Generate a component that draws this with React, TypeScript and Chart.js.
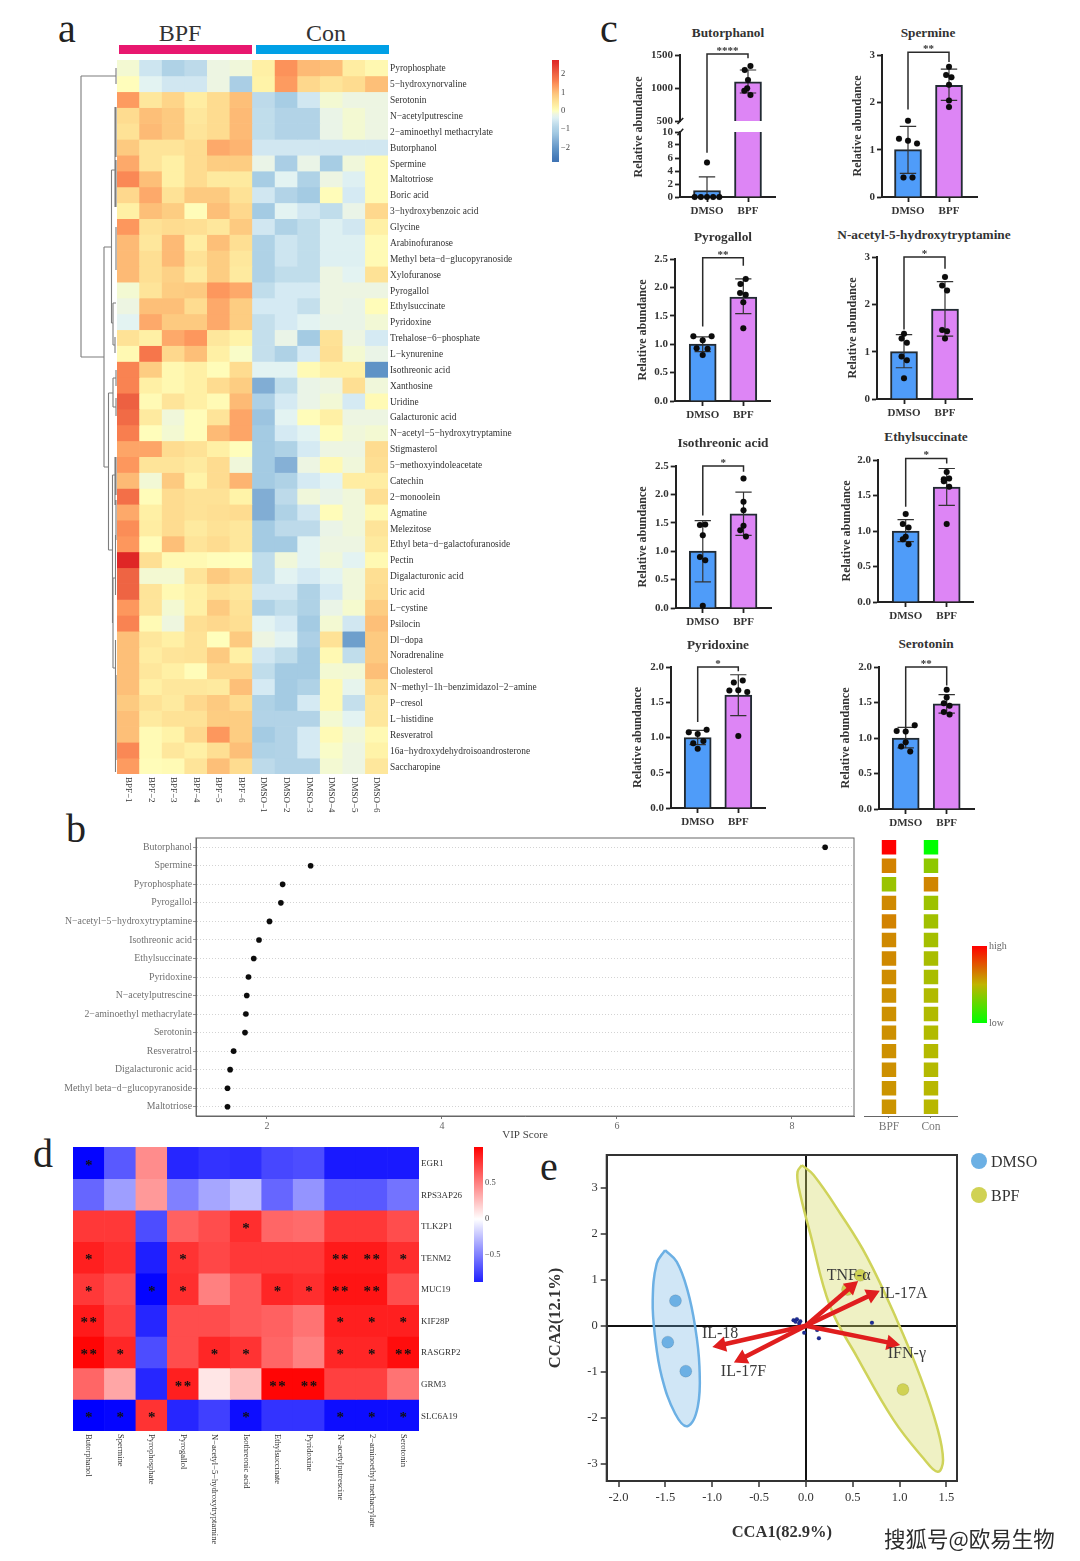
import React, { useEffect, useRef } from "react";
import { Chart, registerables } from "chart.js";
Chart.register(...registerables);

const SERIF = '"Liberation Serif", "Times New Roman", serif';

// ---------- panel a ----------
const heatSamples = ["BPF−1","BPF−2","BPF−3","BPF−4","BPF−5","BPF−6","DMSO−1","DMSO−2","DMSO−3","DMSO−4","DMSO−5","DMSO−6"];
const heatMetabolites = ["Pyrophosphate","5−hydroxynorvaline","Serotonin","N−acetylputrescine","2−aminoethyl methacrylate","Butorphanol","Spermine","Maltotriose","Boric acid","3−hydroxybenzoic acid","Glycine","Arabinofuranose","Methyl beta−d−glucopyranoside","Xylofuranose","Pyrogallol","Ethylsuccinate","Pyridoxine","Trehalose−6−phosphate","L−kynurenine","Isothreonic acid","Xanthosine","Uridine","Galacturonic acid","N−acetyl−5−hydroxytryptamine","Stigmasterol","5−methoxyindoleacetate","Catechin","2−monoolein","Agmatine","Melezitose","Ethyl beta−d−galactofuranoside","Pectin","Digalacturonic acid","Uric acid","L−cystine","Psilocin","Dl−dopa","Noradrenaline","Cholesterol","N−methyl−1h−benzimidazol−2−amine","P−cresol","L−histidine","Resveratrol","16a−hydroxydehydroisoandrosterone","Saccharopine"];
const heatValues = [
[-0.1,-0.6,-1.0,-0.8,-0.2,-0.15,0.25,1.45,1.05,1.0,0.3,0.12],
[0.03,-0.35,-0.55,-0.55,-0.2,-1.1,0.2,1.35,0.65,0.45,0.6,1.0],
[1.35,0.4,0.7,0.3,0.6,1.0,-0.8,-1.15,-0.55,-0.1,-0.2,-0.2],
[0.6,1.0,0.85,0.4,0.6,1.05,-0.75,-0.95,-0.95,-0.25,-0.1,-0.2],
[0.5,1.05,0.85,0.45,0.6,1.05,-0.75,-0.95,-0.95,-0.25,-0.1,-0.2],
[0.85,0.45,0.45,0.6,1.2,1.1,-0.55,-0.55,-0.55,-0.55,-0.55,-0.55],
[1.2,0.45,0.25,0.6,0.8,0.8,-0.25,-1.1,-0.25,-1.15,-0.15,0.08],
[1.55,1.0,0.25,0.6,0.35,0.35,-1.15,-0.35,-1.0,-0.2,-0.4,0.08],
[0.65,1.2,0.5,0.85,0.85,0.5,-0.55,-0.95,-1.2,0.05,-0.5,0.08],
[0.25,1.0,0.8,0.05,1.0,0.65,-1.2,-0.35,-0.55,-0.75,-0.25,0.65],
[1.4,0.5,0.6,0.55,0.4,0.85,-0.55,-1.0,-0.75,-0.4,-0.55,0.25],
[1.05,0.4,1.05,0.3,1.0,0.55,-1.0,-0.6,-0.75,-0.4,-0.4,0.08],
[1.05,0.55,1.05,0.5,0.8,0.4,-1.0,-0.6,-0.75,-0.4,-0.4,0.08],
[1.05,0.55,0.75,0.35,0.8,0.35,-1.0,-0.75,-0.75,-0.2,-0.35,0.5],
[-0.1,0.45,0.8,0.85,1.4,1.2,-0.75,-0.5,-0.5,-0.2,-0.2,-0.2],
[-0.2,1.0,1.0,0.6,1.2,0.8,-0.5,-0.5,-0.7,-0.2,-0.25,0.05],
[-0.35,1.2,0.85,0.85,1.2,0.8,-0.7,-0.5,-0.35,-0.25,-0.25,-0.12],
[0.5,0.25,1.2,1.4,0.4,0.2,-0.7,-0.25,-1.2,0.5,-0.2,-0.5],
[0.1,1.75,0.65,1.0,0.25,-0.05,-0.7,-1.0,-0.5,0.55,-0.1,-0.25],
[1.6,0.8,0.12,0.25,0.05,0.6,-0.35,-0.35,0.08,0.25,0.25,-2.1],
[1.6,0.25,0.12,0.25,0.6,0.8,-1.65,-0.75,-0.25,-0.2,0.55,-0.15],
[2.05,0.08,0.45,0.25,0.08,1.05,-1.05,-0.5,-0.25,-0.12,-0.5,0.08],
[1.9,0.35,-0.15,0.05,0.45,1.25,-1.3,-0.35,0.05,0.25,-0.2,-0.2],
[1.65,0.03,-0.1,0.05,1.05,1.25,-1.2,-0.5,-0.35,0.05,-0.15,-0.1],
[1.25,1.25,0.6,0.5,0.25,0.03,-1.2,-1.0,-0.5,-0.2,-0.2,0.6],
[1.4,0.45,0.45,0.35,0.6,-0.15,-1.2,-1.6,-0.2,0.1,-0.15,0.55],
[1.05,-0.12,0.85,0.2,0.6,1.1,-1.2,-1.0,-0.5,-0.35,0.3,0.3],
[1.85,0.05,0.6,0.5,0.5,0.2,-1.65,-0.8,-0.15,-0.25,-0.15,0.55],
[1.2,0.25,0.6,0.5,0.55,0.6,-1.65,-1.0,-0.55,0.05,-0.15,0.1],
[1.5,0.3,0.6,0.35,0.5,0.4,-1.2,-0.8,-0.8,-0.25,-0.15,0.45],
[1.4,0.05,1.0,0.45,0.6,0.4,-1.2,-1.2,-0.35,-0.2,-0.2,0.35],
[2.7,0.55,0.1,0.1,0.03,0.02,-0.75,-0.15,-0.35,-0.15,-0.35,0.1],
[2.0,-0.1,-0.1,0.45,0.85,0.65,-0.75,-0.35,-0.5,-0.35,-0.15,0.55],
[2.0,0.45,0.1,0.25,0.5,0.4,-0.55,-0.55,-1.0,-0.5,-0.15,0.6],
[1.4,0.45,-0.1,0.25,0.85,0.5,-1.0,-0.75,-1.0,-0.25,-0.08,0.8],
[1.6,0.08,-0.18,0.55,0.65,0.55,-0.35,-0.5,-1.2,-0.1,-0.55,1.0],
[1.0,0.4,0.25,0.5,0.02,0.85,-0.2,-0.35,-1.05,0.5,-1.9,0.85],
[1.0,0.3,0.45,0.5,0.85,0.25,-0.55,-0.75,-1.2,0.1,-0.75,0.85],
[1.0,0.4,0.25,0.05,0.65,0.65,-0.75,-1.2,-1.2,-0.1,-0.12,1.0],
[1.0,0.25,0.4,0.4,0.35,1.0,-0.5,-1.2,-1.0,0.1,-0.3,0.6],
[0.85,0.5,0.35,0.65,0.85,0.6,-1.0,-1.2,-0.5,0.1,-0.7,0.4],
[1.0,0.35,0.5,0.5,0.8,0.8,-0.95,-0.95,-0.95,-0.1,-0.35,0.4],
[1.0,0.08,0.2,0.65,1.4,0.8,-1.2,-0.95,-0.5,0.08,-0.15,0.1],
[1.55,0.08,0.4,0.25,0.55,1.0,-1.0,-0.95,-0.5,-0.05,-0.2,0.2],
[1.35,0.05,0.08,0.45,1.0,0.6,-0.8,-0.95,-0.95,-0.1,-0.2,0.4],
];
// dendrogram branches: merge height, position along the row axis (to height, to position)
const dendroBranches = [
[36,16,36,297],[36,16,1,16],[1,8,1,24],[36,297,13,297],[13,187,13,407],[13,187,5.5,187],[5.5,110,5.5,263],[5.5,110,2,110],[2,47,2,147],[1,47,1,97],[1,100,1,147],[1,167,1,210],
[5.5,263,4,263],[4,243,4,285],[4,243,1,243],[4,285,2,285],[2,277,2,293],[13,407,8.5,407],[8.5,333,8.5,490],[8.5,333,4,333],[4,318,4,347],[4,318,1,318],[1,310,1,326],[4,347,1,347],[1,338,1,356],
[8.5,490,4.5,490],[4.5,415,4.5,563],[4.5,415,2,415],[2,397,2,445],[1,397,1,435],[1,440,1,480],[4.5,563,4,563],[4,518,4,608],[4,518,1.5,518],[1.5,475,1.5,535],[4,608,1.5,608],[1.5,580,1.5,712],[1,615,1,700],
];

// ---------- panel b ----------
const vipNames = ["Butorphanol","Spermine","Pyrophosphate","Pyrogallol","N−acetyl−5−hydroxytryptamine","Isothreonic acid","Ethylsuccinate","Pyridoxine","N−acetylputrescine","2−aminoethyl methacrylate","Serotonin","Resveratrol","Digalacturonic acid","Methyl beta−d−glucopyranoside","Maltotriose"];
const vipScores = [8.38,2.5,2.18,2.16,2.03,1.91,1.85,1.79,1.77,1.76,1.75,1.62,1.58,1.55,1.55];
const vipBpf = [1,0.64,0.4,0.62,0.64,0.62,0.62,0.61,0.6,0.6,0.6,0.6,0.6,0.59,0.59];
const vipCon = [0,0.37,0.63,0.41,0.42,0.43,0.44,0.44,0.46,0.46,0.46,0.47,0.47,0.48,0.48];
const vipGroups = ["BPF","Con"];

// ---------- panel c ----------
const groupNames = ["DMSO","BPF"];
const butorphanolDmso = [5.3,0,0,0,0,0];
const butorphanolDmsoJitter = [0,-0.3,-0.15,0,0.15,0.3];
const butorphanolBpf = [1333,1273,1121,995,959,894];
const butorphanolBpfJitter = [0.06,-0.08,0,-0.02,-0.09,0.06];
const spermineDmso = [1.61,1.23,1.19,1.13,0.41,0.41];
const spermineDmsoJitter = [0,-0.22,0,0.22,-0.11,0.11];
const spermineBpf = [2.75,2.58,2.53,2.37,2.04,1.9];
const spermineBpfJitter = [0,-0.07,0.06,0,0,0];
const pyrogallolDmso = [1.14,1.14,1.07,0.93,0.92,0.81];
const pyrogallolDmsoJitter = [-0.23,0.22,0,-0.15,0.12,0];
const pyrogallolBpf = [2.15,2.06,1.9,1.87,1.74,1.28];
const pyrogallolBpfJitter = [0.06,-0.07,-0.08,0.06,0,0];
const nAcetylDmso = [1.38,1.28,1.19,0.9,0.82,0.44];
const nAcetylDmsoJitter = [0,-0.06,0.07,-0.06,0.07,0];
const nAcetylBpf = [2.58,2.4,2.29,1.46,1.43,1.28];
const nAcetylBpfJitter = [0,-0.07,0.05,-0.07,0.05,0];
const isothreonicDmso = [1.46,1.47,1.28,0.9,0.84,0.04];
const isothreonicDmsoJitter = [-0.07,0.06,0,-0.07,0.06,0];
const isothreonicBpf = [2.28,1.87,1.72,1.45,1.37,1.26];
const isothreonicBpfJitter = [0,0,0,0,-0.08,0.06];
const ethylDmso = [1.24,1.1,1.05,0.92,0.885,0.815];
const ethylDmsoJitter = [0,-0.07,0.07,0,-0.07,0.07];
const ethylBpf = [1.83,1.73,1.74,1.7,1.625,1.1];
const ethylBpfJitter = [0,-0.07,0.06,-0.07,0.06,0];
const pyridoxineDmso = [1.11,1.075,1.05,0.95,0.92,0.84];
const pyridoxineDmsoJitter = [0.22,-0.22,0,0.14,-0.11,0];
const pyridoxineBpf = [1.81,1.78,1.67,1.665,1.645,1.02];
const pyridoxineBpfJitter = [0.11,-0.11,0,-0.22,0.22,0];
const serotoninDmso = [1.18,1.1,1.09,0.94,0.88,0.81];
const serotoninDmsoJitter = [0.22,-0.22,0,0,-0.11,0.11];
const serotoninBpf = [1.68,1.57,1.49,1.455,1.365,1.33];
const serotoninBpfJitter = [0,0,-0.07,0.07,-0.07,0.07];

// ---------- panel d ----------
const corrGenes = ["EGR1","RPS3AP26","TLK2P1","TENM2","MUC19","KIF28P","RASGRP2","GRM3","SLC6A19"];
const corrMetabolites = ["Butorphanol","Spermine","Pyrophosphate","Pyrogallol","N−acetyl−5−hydroxytryptamine","Isothreonic acid","Ethylsuccinate","Pyridoxine","N−acetylputrescine","2−aminoethyl methacrylate","Serotonin"];
const corrValues = [
[-0.98,-0.65,0.45,-0.85,-0.8,-0.82,-0.72,-0.7,-0.9,-0.9,-0.9],
[-0.6,-0.38,0.4,-0.5,-0.35,-0.25,-0.6,-0.42,-0.65,-0.65,-0.55],
[0.78,0.78,-0.7,0.62,0.7,0.82,0.6,0.58,0.78,0.78,0.7],
[0.88,0.82,-0.88,0.8,0.72,0.78,0.78,0.78,0.9,0.9,0.82],
[0.78,0.7,-0.98,0.82,0.5,0.65,0.85,0.82,0.92,0.92,0.7],
[0.9,0.75,-0.85,0.7,0.7,0.65,0.62,0.55,0.88,0.88,0.88],
[0.98,0.85,-0.7,0.7,0.85,0.8,0.6,0.5,0.85,0.85,0.95],
[0.6,0.35,-0.85,0.88,0.1,0.25,0.98,0.98,0.75,0.75,0.55],
[-1,-0.98,0.8,-0.85,-0.75,-0.95,-0.8,-0.8,-0.95,-0.95,-0.95],
];
const corrStars = [
["*","","","","","","","","","",""],
["","","","","","","","","","",""],
["","","","","","*","","","","",""],
["*","","","*","","","","","**","**","*"],
["*","","*","*","","","*","*","**","**",""],
["**","","","","","","","","*","*","*"],
["**","*","","","*","*","","","*","*","**"],
["","","","**","","","**","**","","",""],
["*","*","*","","","*","","","*","*","*"],
];

// ---------- panel e ----------
const ccaTicksX = [-2,-1.5,-1,-0.5,0,0.5,1,1.5];
const ccaTicksY = [-3,-2,-1,0,1,2,3];
const dmsoX = [-1.392,-1.474,-1.282];
const dmsoY = [0.545,-0.356,-0.988];
const bpfX = [0.58,0.445,1.036];
const bpfY = [1.1,0.79,-1.387];
const dmsoHullX = [-1.503,-1.378,-1.264,-1.182,-1.136,-1.154,-1.264,-1.396,-1.538,-1.61,-1.635,-1.592,-1.503];
const dmsoHullY = [1.648,1.394,0.777,-0.022,-0.893,-1.765,-2.186,-1.91,-1.111,-0.24,0.559,1.358,1.648];
const bpfHullX = [-0.043,0.082,0.367,0.652,0.972,1.222,1.4,1.464,1.407,1.257,0.937,0.545,0.26,0.046,-0.078,-0.089,-0.043];
const bpfHullY = [3.5,3.283,2.447,1.503,0.123,-1.111,-2.2,-2.927,-3.181,-2.89,-2.055,-0.675,0.414,2.012,3.028,3.355,3.5];
const speciesX = [-0.132,-0.096,-0.06,-0.071,-0.018,0.139,0.705,-0.11,0.12];
const speciesY = [0.123,0.145,0.1,0.05,-0.152,-0.269,0.065,0.09,-0.09];
const factorNames = ["TNF-α","IL-17A","IFN-γ","IL-18","IL-17F"];
const factorX = [0.485,0.702,0.912,-0.905,-0.683];
const factorY = [0.85,0.679,-0.378,-0.419,-0.712];
const factorLabelX = [0.456,1.043,1.078,-0.915,-0.666];
const factorLabelY = [1.1,0.704,-0.617,-0.182,-1.002];

// ---------- colour maps ----------
type Stop = [number, number[]];
const hex = (h: string) => [parseInt(h.slice(1, 3), 16), parseInt(h.slice(3, 5), 16), parseInt(h.slice(5, 7), 16)];
const ramp = (stops: [number, string][]) => {
  const s: Stop[] = stops.map(([v, c]) => [v, hex(c)]);
  return (v: number) => {
    if (v <= s[0][0]) return `rgb(${s[0][1].join(",")})`;
    for (let i = 1; i < s.length; i++) {
      if (v <= s[i][0]) {
        const t = (v - s[i - 1][0]) / (s[i][0] - s[i - 1][0]);
        const c = s[i][1].map((x, k) => Math.round(s[i - 1][1][k] + (x - s[i - 1][1][k]) * t));
        return `rgb(${c.join(",")})`;
      }
    }
    return `rgb(${s[s.length - 1][1].join(",")})`;
  };
};
const metabColor = ramp([[-2.7,"#3f74b4"],[-2.1,"#5f93c6"],[-1.6,"#85b0d6"],[-1.2,"#a4cbe3"],[-0.9,"#b5d5e8"],[-0.7,"#c4dfec"],[-0.5,"#d5eaf3"],[-0.35,"#e3f3f2"],[-0.2,"#edf5e2"],[-0.1,"#f3f9d2"],[0,"#ffffbe"],[0.2,"#fff3a8"],[0.4,"#fee79c"],[0.6,"#fedc90"],[0.8,"#fdcd82"],[1,"#fdbf78"],[1.2,"#fda96a"],[1.4,"#fd975d"],[1.7,"#f7794c"],[2,"#ee6443"],[2.7,"#df2626"]]);
const vipColor = ramp([[0,"#00ff00"],[0.5,"#c0b400"],[1,"#ff0000"]]);
const corrColor = ramp([[-1,"#0000ff"],[0,"#ffffff"],[1,"#ff0000"]]);

// ---------- helpers ----------
type Frame = { l: number; t: number; r: number; b: number; gl: number; gt: number; gr: number; gb: number };
const boxOf = (f: Frame) => ({ left: f.l - f.gl, top: f.t - f.gt, width: f.r - f.l + f.gl + f.gr, height: f.b - f.t + f.gt + f.gb });
const fixW = (w: number) => (s: any) => { s.width = w; };
const fixH = (h: number) => (s: any) => { s.height = h; };
const setTicks = (arr: number[]) => (s: any) => { s.ticks = arr.map((value) => ({ value })); };
const font = (size: number, weight: any = "normal") => ({ family: SERIF, size, weight });
const baseOptions = (padding: any) => ({
  responsive: false,
  animation: false as const,
  layout: { autoPadding: false, padding },
  plugins: { legend: { display: false }, tooltip: { enabled: false }, title: { display: false } },
});
const segPoints = (segs: number[][]) => {
  const out: any[] = [];
  segs.forEach((s) => out.push({ x: s[0], y: s[1] }, { x: s[2], y: s[3] }, { x: null, y: null }));
  return out;
};
const xy = (xs: number[], ys: number[]) => xs.map((x, i) => ({ x, y: ys[i] }));

const downLabels = (labels: string[], size: number, color: string, gap: number) => ({
  id: "downLabels",
  afterDraw(chart: any) {
    const { ctx, scales } = chart;
    ctx.save();
    ctx.font = `${size}px ${SERIF}`;
    ctx.fillStyle = color;
    ctx.textAlign = "left";
    ctx.textBaseline = "middle";
    labels.forEach((t, i) => {
      ctx.save();
      ctx.translate(scales.x.getPixelForTick(i), scales.x.top + gap);
      ctx.rotate(Math.PI / 2);
      ctx.fillText(t, 0, 0);
      ctx.restore();
    });
    ctx.restore();
  },
});
const frameBox = (color: string, width: number) => ({
  id: "frameBox",
  afterDatasetsDraw(chart: any) {
    const { ctx, chartArea: a } = chart;
    ctx.save();
    ctx.strokeStyle = color;
    ctx.lineWidth = width;
    ctx.strokeRect(a.left, a.top, a.right - a.left, a.bottom - a.top);
    ctx.restore();
  },
});

function heatConfig(f: Frame, cols: string[], rows: string[], values: number[][], colorOf: (v: number) => string, rowFont: any, rowColor: string, colSize: number, extra: any[]) {
  const rowH = (f.b - f.t) / rows.length;
  return {
    type: "bar",
    data: {
      labels: cols,
      datasets: rows.map((r, ri) => ({
        label: r,
        data: cols.map(() => 1),
        backgroundColor: values[ri].map(colorOf),
        barPercentage: 1,
        categoryPercentage: 1,
        borderWidth: 0,
      })),
    },
    options: {
      ...baseOptions({ top: f.gt }),
      scales: {
        x: {
          stacked: true,
          afterFit: fixH(f.gb),
          grid: { display: false, drawTicks: false },
          border: { display: false },
          ticks: { display: false },
        },
        y: {
          stacked: true,
          position: "right",
          type: "linear",
          reverse: true,
          min: 0,
          max: rows.length,
          afterFit: fixW(f.gr),
          afterBuildTicks: setTicks(rows.map((_, i) => i + 0.5 + 1 / rowH)),
          grid: { display: false, drawTicks: false },
          border: { display: false },
          ticks: { autoSkip: false, font: rowFont, color: rowColor, padding: 2, callback: (_: any, i: number) => rows[i] },
        },
      },
    },
    plugins: [downLabels(cols, colSize, rowColor, 3), ...extra],
  };
}

function colorBarConfig(f: Frame, min: number, max: number, colorOf: (v: number) => string, ticks: number[], labels: string[], size: number, color: string) {
  return {
    type: "bar",
    data: {
      labels: ["scale"],
      datasets: [{
        data: [[min, max]],
        barPercentage: 1,
        categoryPercentage: 1,
        borderWidth: 0,
        backgroundColor: (c: any) => {
          const a = c.chart.chartArea;
          if (!a) return "#888";
          const g = c.chart.ctx.createLinearGradient(0, a.bottom, 0, a.top);
          for (let i = 0; i <= 30; i++) g.addColorStop(i / 30, colorOf(min + ((max - min) * i) / 30));
          return g;
        },
      }],
    },
    options: {
      ...baseOptions({ top: f.gt, bottom: f.gb }),
      scales: {
        x: { display: false },
        y: {
          position: "right",
          min,
          max,
          afterFit: fixW(f.gr),
          afterBuildTicks: setTicks(ticks),
          grid: { display: false, drawTicks: false },
          border: { display: false },
          ticks: { autoSkip: false, font: font(size), color, padding: 2, callback: (_: any, i: number) => labels[i] },
        },
      },
    },
  };
}

type BarSpec = {
  frame: Frame; c1: number; c2: number; yMin: number; yMax: number; yTicks: number[]; digits: number;
  means: (number | null)[]; errs: (number[] | null)[]; dots: number[][]; jitter: number[][];
  bracket: number[][]; stars: string; showX: boolean; yTitle: boolean; extraSegs?: number[][];
};
function barConfig(s: BarSpec) {
  const f = s.frame;
  const u = s.c2 - s.c1;
  const whiskers: number[][] = [];
  s.errs.forEach((e, i) => {
    if (!e) return;
    whiskers.push([i, e[0], i, e[1]], [i - 0.2, e[1], i + 0.2, e[1]], [i - 0.2, e[0], i + 0.2, e[0]]);
  });
  const dotPts: any[] = [];
  s.dots.forEach((arr, g) => arr.forEach((v, k) => dotPts.push({ x: g + s.jitter[g][k], y: v })));
  const datasets: any[] = [
    { type: "scatter", order: 0, data: dotPts, backgroundColor: "#0c0c0c", pointRadius: 3, clip: false },
    { type: "scatter", order: 1, data: segPoints(whiskers), showLine: true, spanGaps: false, borderColor: "#333", borderWidth: 1.2, pointRadius: 0, clip: false },
    { type: "scatter", order: 2, data: s.bracket.map(([x, y]) => ({ x, y })), showLine: true, borderColor: "#2a2a2a", borderWidth: 1.5, pointRadius: 0, clip: false },
    { type: "bar", order: 3, data: s.means.map((y, x) => ({ x, y })).filter((d) => d.y !== null), backgroundColor: s.means.map((y, i) => (i === 0 ? "#4f9cf9" : "#dd85f5")).filter((_, i) => s.means[i] !== null), borderColor: "#222b33", borderWidth: 2, borderSkipped: "start", barThickness: 27 },
  ];
  if (s.extraSegs) datasets.push({ type: "scatter", order: 4, data: segPoints(s.extraSegs), showLine: true, spanGaps: false, borderColor: "#222", borderWidth: 1.6, pointRadius: 0, clip: false });
  const starPlugin = {
    id: "sig",
    afterDatasetsDraw(chart: any) {
      if (!s.stars) return;
      const { ctx, scales } = chart;
      ctx.save();
      ctx.font = `bold 11px ${SERIF}`;
      ctx.fillStyle = "#333";
      ctx.textAlign = "center";
      ctx.textBaseline = "middle";
      const top = s.bracket[1][1];
      ctx.fillText(s.stars, scales.x.getPixelForValue(0.5), scales.y.getPixelForValue(top) - 3);
      ctx.restore();
    },
  };
  const xScale: any = {
    type: "linear", display: s.showX, offset: false,
    min: (f.l - s.c1) / u, max: (f.r - s.c1) / u,
    afterBuildTicks: setTicks([0, 1]),
    grid: { offset: false, drawOnChartArea: false, tickLength: 5, tickWidth: 1.8, tickColor: "#222" },
    border: { color: "#222", width: 2 },
    ticks: { autoSkip: false, font: font(11, "bold"), color: "#333", padding: 3, callback: (_: any, i: number) => groupNames[i] },
  };
  if (s.showX) xScale.afterFit = fixH(f.gb);
  return {
    type: "scatter",
    data: { datasets },
    options: {
      ...baseOptions({ top: f.gt, right: f.gr, bottom: s.showX ? 0 : f.gb }),
      scales: {
        x: xScale,
        y: {
          type: "linear", min: s.yMin, max: s.yMax, beginAtZero: false,
          afterFit: fixW(f.gl),
          afterBuildTicks: setTicks(s.yTicks),
          grid: { drawOnChartArea: false, tickLength: 5, tickWidth: 1.8, tickColor: "#222" },
          border: { color: "#222", width: 2 },
          title: { display: s.yTitle, text: "Relative abundance", font: font(12, "bold"), color: "#333", padding: 0 },
          ticks: { autoSkip: false, font: font(11, "bold"), color: "#333", padding: 2, callback: (v: number) => Number(v).toFixed(s.digits) },
        },
      },
    },
    plugins: [starPlugin],
  };
}

const F = (l: number, r: number, t: number, b: number, titleX: number): Frame => ({ l, r, t, b, gl: l - titleX + 7, gt: 14, gr: 12, gb: 24 });

const sciPanels: { title: string; tx: number; ty: number; spec: BarSpec }[] = [
  { title: "Spermine", tx: 928, ty: 33, spec: { frame: F(882, 977, 55, 197, 858), c1: 908, c2: 949, yMin: 0, yMax: 3, yTicks: [0,1,2,3], digits: 0, means: [1, 2.36], errs: [[0.5,1.49],[2.04,2.7]], dots: [spermineDmso, spermineBpf], jitter: [spermineDmsoJitter, spermineBpfJitter], bracket: [[0,1.85],[0,3.06],[1,3.06],[1,2.85]], stars: "**", showX: true, yTitle: true } },
  { title: "Pyrogallol", tx: 723, ty: 237, spec: { frame: F(675, 770, 259.3, 401, 643), c1: 702.7, c2: 743.3, yMin: 0, yMax: 2.5, yTicks: [0,0.5,1,1.5,2,2.5], digits: 1, means: [1, 1.83], errs: [[0.87,1.13],[1.54,2.15]], dots: [pyrogallolDmso, pyrogallolBpf], jitter: [pyrogallolDmsoJitter, pyrogallolBpfJitter], bracket: [[0,1.31],[0,2.52],[1,2.52],[1,2.38]], stars: "**", showX: true, yTitle: true } },
  { title: "N-acetyl-5-hydroxytryptamine", tx: 924, ty: 235, spec: { frame: F(877, 972, 256.7, 398.3, 853), c1: 904, c2: 945, yMin: 0, yMax: 3, yTicks: [0,1,2,3], digits: 0, means: [1, 1.9], errs: [[0.66,1.36],[1.33,2.48]], dots: [nAcetylDmso, nAcetylBpf], jitter: [nAcetylDmsoJitter, nAcetylBpfJitter], bracket: [[0,1.47],[0,3],[1,3],[1,2.75]], stars: "*", showX: true, yTitle: true } },
  { title: "Isothreonic acid", tx: 723, ty: 443, spec: { frame: F(675.7, 770.7, 465.7, 608, 643), c1: 702.7, c2: 743.3, yMin: 0, yMax: 2.5, yTicks: [0,0.5,1,1.5,2,2.5], digits: 1, means: [1, 1.66], errs: [[0.46,1.54],[1.28,2.04]], dots: [isothreonicDmso, isothreonicBpf], jitter: [isothreonicDmsoJitter, isothreonicBpfJitter], bracket: [[0,1.63],[0,2.5],[1,2.5],[1,2.4]], stars: "*", showX: true, yTitle: true } },
  { title: "Ethylsuccinate", tx: 926, ty: 437, spec: { frame: F(878, 973, 460, 602.3, 847), c1: 905.7, c2: 946.7, yMin: 0, yMax: 2, yTicks: [0,0.5,1,1.5,2], digits: 1, means: [1, 1.62], errs: [[0.85,1.16],[1.36,1.88]], dots: [ethylDmso, ethylBpf], jitter: [ethylDmsoJitter, ethylBpfJitter], bracket: [[0,1.34],[0,2.02],[1,2.02],[1,1.95]], stars: "*", showX: true, yTitle: true } },
  { title: "Pyridoxine", tx: 718, ty: 645, spec: { frame: F(671, 765, 667.3, 808.7, 638), c1: 697.7, c2: 738.3, yMin: 0, yMax: 2, yTicks: [0,0.5,1,1.5,2], digits: 1, means: [1, 1.6], errs: [[0.9,1.1],[1.31,1.89]], dots: [pyridoxineDmso, pyridoxineBpf], jitter: [pyridoxineDmsoJitter, pyridoxineBpfJitter], bracket: [[0,1.22],[0,2],[1,2],[1,1.94]], stars: "*", showX: true, yTitle: true } },
  { title: "Serotonin", tx: 926, ty: 644, spec: { frame: F(879, 974, 666.7, 808.7, 846), c1: 905.7, c2: 946.7, yMin: 0, yMax: 2, yTicks: [0,0.5,1,1.5,2], digits: 1, means: [1, 1.48], errs: [[0.86,1.15],[1.35,1.61]], dots: [serotoninDmso, serotoninBpf], jitter: [serotoninDmsoJitter, serotoninBpfJitter], bracket: [[0,1.155],[0,2],[1,2],[1,1.74]], stars: "**", showX: true, yTitle: true } },
];

const butorUpper: BarSpec = {
  frame: { l: 680, r: 775, t: 55, b: 121, gl: 36, gt: 14, gr: 12, gb: 14 }, c1: 707, c2: 748, yMin: 500, yMax: 1500, yTicks: [500,1000,1500], digits: 0,
  means: [null, 1092], errs: [null, [924,1273]], dots: [[], butorphanolBpf], jitter: [[], butorphanolBpfJitter],
  bracket: [[0,333],[0,1515],[1,1515],[1,1450]], stars: "****", showX: false, yTitle: false,
  extraSegs: [[-0.72,455,-0.58,545]],
};
const butorLower: BarSpec = {
  frame: { l: 680, r: 775, t: 132, b: 197, gl: 36, gt: 10, gr: 12, gb: 24 }, c1: 707, c2: 748, yMin: 0, yMax: 10, yTicks: [0,2,4,6,8,10], digits: 0,
  means: [1, 1092], errs: [[0,3.1], null], dots: [butorphanolDmso, []], jitter: [butorphanolDmsoJitter, []],
  bracket: [[0,6.8],[0,10],[0,10],[0,10]], stars: "", showX: true, yTitle: false,
  extraSegs: [[-0.72,9.5,-0.58,10.5]],
};

const dendroFrame: Frame = { l: 78, r: 117, t: 60, b: 774, gl: 0, gt: 0, gr: 0, gb: 0 };
const aFrame: Frame = { l: 117, r: 388, t: 60, b: 774, gl: 0, gt: 12, gr: 175, gb: 45 };
const aBar: Frame = { l: 552, r: 559, t: 60, b: 162, gl: 0, gt: 10, gr: 20, gb: 10 };
const bFrame: Frame = { l: 196, r: 854, t: 838, b: 1116, gl: 140, gt: 12, gr: 12, gb: 26 };
const bHeat: Frame = { l: 864, r: 957, t: 838, b: 1116, gl: 0, gt: 12, gr: 12, gb: 22 };
const bBar: Frame = { l: 972, r: 987, t: 946, b: 1023, gl: 0, gt: 10, gr: 28, gb: 10 };
const dFrame: Frame = { l: 73.3, r: 419.3, t: 1147.3, b: 1431, gl: 0, gt: 12, gr: 52, gb: 122 };
const dBar: Frame = { l: 474, r: 483, t: 1147, b: 1282, gl: 0, gt: 10, gr: 30, gb: 10 };
const eFrame: Frame = { l: 606.7, r: 956.7, t: 1155, b: 1481, gl: 60.7, gt: 14, gr: 14, gb: 62 };

const dendroConfig = () => ({
  type: "scatter",
  data: { datasets: [{ data: segPoints(dendroBranches), showLine: true, spanGaps: false, borderColor: "#7d7d7d", borderWidth: 1.1, pointRadius: 0, clip: false }] },
  options: {
    ...baseOptions({}),
    scales: {
      x: { display: false, min: 0, max: 39, reverse: true },
      y: { display: false, min: 0, max: 714, reverse: true },
    },
  },
});

const vipConfig = () => ({
  type: "scatter",
  data: { labels: vipNames, datasets: [{ data: vipScores.map((x, i) => ({ x, y: vipNames[i] })), backgroundColor: "#0c0c0c", pointRadius: 2.8 }] },
  options: {
    ...baseOptions({ top: bFrame.gt, right: bFrame.gr }),
    scales: {
      x: {
        type: "linear", min: 1.19, max: 8.71,
        afterFit: fixH(bFrame.gb),
        afterBuildTicks: setTicks([2,4,6,8]),
        grid: { drawOnChartArea: false, tickLength: 3, tickColor: "#777" },
        border: { color: "#666", width: 1 },
        title: { display: true, text: "VIP Score", font: font(11), color: "#444", padding: 0 },
        ticks: { font: font(10), color: "#666", padding: 1 },
      },
      y: {
        type: "category", offset: true,
        afterFit: fixW(bFrame.gl),
        grid: { color: "#c8c8c8", tickLength: 3, tickColor: "#777", lineWidth: 0.8 },
        border: { color: "#666", width: 1, dash: [1, 2] },
        ticks: { autoSkip: false, font: font(9.8), color: "#707070", padding: 1 },
      },
    },
  },
  plugins: [frameBox("#666", 1)],
});

const vipHeatConfig = () => ({
  type: "scatter",
  data: {
    labels: vipNames,
    datasets: [
      { data: vipBpf.map((_, i) => ({ x: 0, y: vipNames[i] })), backgroundColor: vipBpf.map(vipColor), borderColor: "rgba(255,255,255,0)", pointStyle: "rect", pointRadius: 10.2 },
      { data: vipCon.map((_, i) => ({ x: 1, y: vipNames[i] })), backgroundColor: vipCon.map(vipColor), borderColor: "rgba(255,255,255,0)", pointStyle: "rect", pointRadius: 10.2 },
    ],
  },
  options: {
    ...baseOptions({ top: bHeat.gt, right: bHeat.gr }),
    scales: {
      x: {
        type: "linear", min: -0.595, max: 1.619,
        afterFit: fixH(bHeat.gb),
        afterBuildTicks: setTicks([0, 1]),
        grid: { drawOnChartArea: false, tickLength: 2, tickColor: "#777" },
        border: { color: "#666", width: 1 },
        ticks: { font: font(11.5), color: "#777", padding: 2, callback: (_: any, i: number) => vipGroups[i] },
      },
      y: { type: "category", offset: true, display: false },
    },
  },
});

const ccaConfig = () => {
  const arrows = factorX.map((x, i) => ({
    type: "scatter", order: 0, data: [{ x: 0, y: 0 }, { x, y: factorY[i] }], showLine: true,
    borderColor: "#e01e1e", borderWidth: 4.5, backgroundColor: "#e01e1e", pointBorderColor: "#e01e1e",
    pointStyle: "triangle", pointRadius: [0, 4.5],
    pointRotation: (c: any) => {
      const s = c.chart.scales;
      const dx = s.x.getPixelForValue(x) - s.x.getPixelForValue(0);
      const dy = s.y.getPixelForValue(0) - s.y.getPixelForValue(factorY[i]);
      return (Math.atan2(dx, dy) * 180) / Math.PI;
    },
  }));
  const labelPlugin = {
    id: "factorLabels",
    afterDatasetsDraw(chart: any) {
      const { ctx, scales } = chart;
      ctx.save();
      ctx.font = `16px ${SERIF}`;
      ctx.fillStyle = "#3a3a3a";
      ctx.textAlign = "center";
      ctx.textBaseline = "middle";
      factorNames.forEach((t, i) => ctx.fillText(t, scales.x.getPixelForValue(factorLabelX[i]), scales.y.getPixelForValue(factorLabelY[i])));
      ctx.restore();
    },
  };
  const centerGrid = (c: any) => (c.tick && c.tick.value === 0 ? "#111" : "rgba(0,0,0,0)");
  return {
    type: "scatter",
    data: {
      datasets: [
        ...arrows,
        { order: 1, data: xy(speciesX, speciesY), backgroundColor: "#1d2c96", pointRadius: 2 },
        { order: 2, data: xy(dmsoX, dmsoY), backgroundColor: "#6cb0e4", pointRadius: 6 },
        { order: 2, data: xy(bpfX, bpfY), backgroundColor: "#d0d254", pointRadius: 6 },
        { order: 3, data: xy(dmsoHullX, dmsoHullY), showLine: true, tension: 0.4, borderColor: "#6cb0e4", borderWidth: 2.5, backgroundColor: "rgba(108,176,228,0.32)", fill: "shape", pointRadius: 0 },
        { order: 3, data: xy(bpfHullX, bpfHullY), showLine: true, tension: 0.4, borderColor: "#cfd35a", borderWidth: 2.5, backgroundColor: "rgba(212,218,100,0.38)", fill: "shape", pointRadius: 0 },
      ],
    },
    options: {
      ...baseOptions({ top: eFrame.gt, right: eFrame.gr }),
      scales: {
        x: {
          type: "linear", min: -2.126, max: 1.613,
          afterFit: fixH(eFrame.gb),
          afterBuildTicks: setTicks(ccaTicksX),
          grid: { color: centerGrid, lineWidth: 2, tickLength: 6, tickColor: "#333", tickWidth: 1.5 },
          border: { color: "#333", width: 2 },
          title: { display: true, text: "CCA1(82.9%)", font: font(16.5, "bold"), color: "#333", padding: 0 },
          ticks: { autoSkip: false, font: font(12.5), color: "#333", padding: 3, callback: (v: number) => Number(v).toFixed(1) },
        },
        y: {
          type: "linear", min: -3.38, max: 3.72,
          afterFit: fixW(eFrame.gl),
          afterBuildTicks: setTicks(ccaTicksY),
          grid: { color: centerGrid, lineWidth: 2, tickLength: 6, tickColor: "#333", tickWidth: 1.5 },
          border: { color: "#333", width: 2 },
          title: { display: true, text: "CCA2(12.1%)", font: font(16.5, "bold"), color: "#333", padding: 0 },
          ticks: { autoSkip: false, font: font(12.5), color: "#333", padding: 3 },
        },
      },
    },
    plugins: [labelPlugin, frameBox("#333", 2)],
  };
};

const corrStarPlugin = {
  id: "corrStars",
  afterDatasetsDraw(chart: any) {
    const { ctx, scales } = chart;
    ctx.save();
    ctx.font = `bold 15px ${SERIF}`;
    ctx.fillStyle = "#111";
    ctx.textAlign = "center";
    ctx.textBaseline = "middle";
    corrStars.forEach((row, r) =>
      row.forEach((s, c) => {
        if (!s) return;
        const x = scales.x.getPixelForTick(c);
        const y = scales.y.getPixelForValue(r + 0.5) + 3;
        if (s.length === 1) ctx.fillText("*", x, y);
        else { ctx.fillText("*", x - 4.5, y); ctx.fillText("*", x + 4.5, y); }
      })
    );
    ctx.restore();
  },
};

function ChartBox({ frame, make }: { frame: Frame; make: () => any }) {
  const ref = useRef<HTMLCanvasElement>(null);
  const b = boxOf(frame);
  useEffect(() => {
    const ch = new Chart(ref.current as any, make());
    return () => ch.destroy();
  }, []);
  return <canvas ref={ref} width={Math.round(b.width)} height={Math.round(b.height)} style={{ position: "absolute", left: b.left, top: b.top, display: "block" }} />;
}

function Txt({ x, base, size, children, anchor = "left", weight = "normal", color = "#333", family = SERIF }: any) {
  return (
    <div style={{ position: "absolute", left: x, top: base - size * 0.8375, fontSize: size, lineHeight: 1, fontWeight: weight, color, fontFamily: family, whiteSpace: "nowrap", transform: anchor === "center" ? "translateX(-50%)" : undefined }}>
      {children}
    </div>
  );
}

export default function App() {
  return (
    <div style={{ position: "absolute", left: 0, top: 0, width: 1080, height: 1561, overflow: "hidden", background: "#fff" }}>
      <Txt x={58} base={42} size={40} color="#222">a</Txt>
      <Txt x={66} base={842} size={40} color="#222">b</Txt>
      <Txt x={600} base={42} size={40} color="#222">c</Txt>
      <Txt x={33} base={1167} size={40} color="#222">d</Txt>
      <Txt x={540} base={1180} size={40} color="#222">e</Txt>

      <Txt x={180} base={41} size={24} anchor="center">BPF</Txt>
      <Txt x={326} base={41} size={24} anchor="center">Con</Txt>
      <div style={{ position: "absolute", left: 119, top: 45, width: 133, height: 9, background: "#e8176f" }} />
      <div style={{ position: "absolute", left: 256, top: 45, width: 133, height: 9, background: "#00a0e6" }} />

      <ChartBox frame={dendroFrame} make={dendroConfig} />
      <ChartBox frame={aFrame} make={() => heatConfig(aFrame, heatSamples, heatMetabolites, heatValues, metabColor, font(9.4), "#333", 9, [])} />
      <ChartBox frame={aBar} make={() => colorBarConfig(aBar, -2.8, 2.76, metabColor, [2,1,0,-1,-2], ["2","1","0","−1","−2"], 8.5, "#444")} />

      <ChartBox frame={bFrame} make={vipConfig} />
      <ChartBox frame={bHeat} make={vipHeatConfig} />
      <ChartBox frame={bBar} make={() => colorBarConfig(bBar, 0, 1, vipColor, [1,0], ["high","low"], 10, "#666")} />

      <Txt x={728} base={37} size={13.3} weight="bold" anchor="center">Butorphanol</Txt>
      <ChartBox frame={butorUpper.frame} make={() => barConfig(butorUpper)} />
      <ChartBox frame={butorLower.frame} make={() => barConfig(butorLower)} />
      <div style={{ position: "absolute", left: 638 - 55, top: 127 - 7, width: 110, height: 14, textAlign: "center", transform: "rotate(-90deg)", font: `bold 12px ${SERIF}`, lineHeight: "14px", color: "#333", whiteSpace: "nowrap" }}>Relative abundance</div>
      {sciPanels.map((p) => (
        <React.Fragment key={p.title}>
          <Txt x={p.tx} base={p.ty + 4} size={13.3} weight="bold" anchor="center">{p.title}</Txt>
          <ChartBox frame={p.spec.frame} make={() => barConfig(p.spec)} />
        </React.Fragment>
      ))}

      <ChartBox frame={dFrame} make={() => heatConfig(dFrame, corrMetabolites, corrGenes, corrValues, corrColor, font(9), "#333", 8.5, [corrStarPlugin])} />
      <ChartBox frame={dBar} make={() => colorBarConfig(dBar, -0.875, 1, corrColor, [0.5,0,-0.5], ["0.5","0","−0.5"], 8.5, "#444")} />

      <ChartBox frame={eFrame} make={ccaConfig} />
      <div style={{ position: "absolute", left: 971, top: 1153, width: 16, height: 16, borderRadius: 8, background: "#6cb0e4" }} />
      <Txt x={991} base={1167} size={16}>DMSO</Txt>
      <div style={{ position: "absolute", left: 971, top: 1187, width: 16, height: 16, borderRadius: 8, background: "#d0d254" }} />
      <Txt x={991} base={1201} size={16}>BPF</Txt>

      <Txt x={884} base={1545} size={21.5} family='"Noto Sans CJK SC", sans-serif' color="#2c2c2c">搜狐号@欧易生物</Txt>
    </div>
  );
}
